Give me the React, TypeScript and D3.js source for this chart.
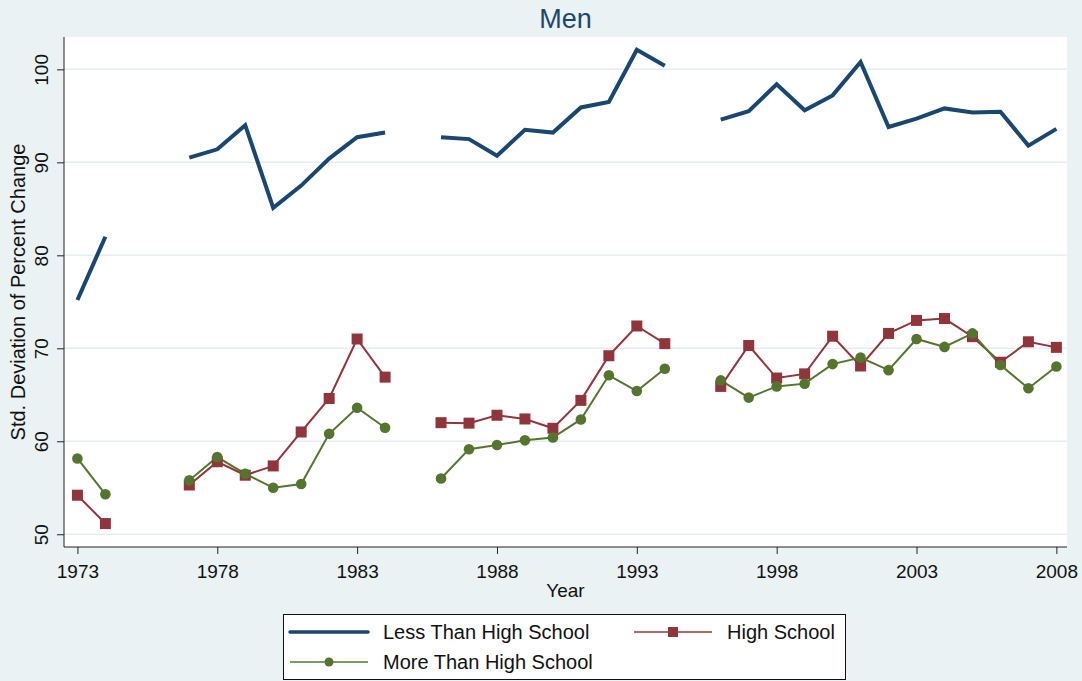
import { useEffect, useRef } from "react";
import * as d3 from "d3";

// years on the x axis (gaps = null)
const years = d3.range(1973, 2009);
const xTicks = [1973, 1978, 1983, 1988, 1993, 1998, 2003, 2008];
const yTicks = [50, 60, 70, 80, 90, 100];

const lessThanHS = [
  75.2, 82.0, null, null, 90.5, 91.4, 94.0, 85.1, 87.5, 90.4, 92.7, 93.2, null,
  92.7, 92.5, 90.7, 93.5, 93.2, 95.9, 96.5, 102.1, 100.4, null, 94.6, 95.5, 98.4,
  95.6, 97.2, 100.8, 93.8, 94.7, 95.8, 95.35, 95.45, 91.8, 93.6,
];
const highSchool = [
  54.2, 51.15, null, null, 55.3, 57.8, 56.35, 57.35, 61.0, 64.6, 71.0, 66.9, null,
  62.0, 61.95, 62.8, 62.4, 61.4, 64.4, 69.2, 72.4, 70.5, null, 65.9, 70.3, 66.8,
  67.25, 71.3, 68.1, 71.6, 73.0, 73.2, 71.25, 68.5, 70.7, 70.1,
];
const moreThanHS = [
  58.15, 54.3, null, null, 55.8, 58.3, 56.5, 55.0, 55.4, 60.8, 63.6, 61.45, null,
  56.0, 59.15, 59.6, 60.1, 60.4, 62.35, 67.1, 65.4, 67.8, null, 66.55, 64.7, 65.9,
  66.2, 68.3, 69.0, 67.65, 71.0, 70.15, 71.6, 68.2, 65.7, 68.05,
];

const BLUE = "#1a476f";
const RED = "#90353b";
const GREEN = "#55752f";
const BG = "#eaf2f3";
const FONT = "'Liberation Sans', Arial, sans-serif";

const App = () => {
  const ref = useRef<SVGSVGElement>(null);

  useEffect(() => {
    const width = 1082;
    const height = 681;
    const svg = d3.select(ref.current);
    svg.selectAll("*").remove();

    const plot = { left: 64, right: 1067, top: 37, bottom: 547 };

    const x = d3.scaleLinear().domain([1972.52, 2008.38]).range([plot.left, plot.right]);
    const y = d3.scaleLinear().domain([48.63, 103.48]).range([plot.bottom, plot.top]);

    svg.append("rect").attr("width", width).attr("height", height).attr("fill", BG);
    svg
      .append("rect")
      .attr("x", plot.left)
      .attr("y", plot.top)
      .attr("width", plot.right - plot.left)
      .attr("height", plot.bottom - plot.top)
      .attr("fill", "#fff");

    // gridlines
    svg
      .append("g")
      .selectAll("line")
      .data(yTicks)
      .join("line")
      .attr("x1", plot.left)
      .attr("x2", plot.right)
      .attr("y1", (d) => y(d))
      .attr("y2", (d) => y(d))
      .attr("stroke", "#e4edef")
      .attr("stroke-width", 1.5);

    // title
    svg
      .append("text")
      .attr("x", (plot.left + plot.right) / 2)
      .attr("y", 28)
      .attr("text-anchor", "middle")
      .attr("font-family", FONT)
      .attr("font-size", 27)
      .attr("fill", BLUE)
      .text("Men");

    // y axis
    const yAxis = svg
      .append("g")
      .attr("transform", `translate(${plot.left},0)`)
      .call(d3.axisLeft(y).tickValues(yTicks).tickSize(7).tickFormat(d3.format("d")));
    yAxis.select(".domain").attr("d", `M0,${plot.top}V${plot.bottom}`).attr("stroke", "#222");
    yAxis.selectAll(".tick line").attr("stroke", "#222");
    yAxis
      .selectAll(".tick text")
      .attr("font-family", FONT)
      .attr("font-size", 19)
      .attr("fill", "#111")
      .attr("x", null)
      .attr("dy", null)
      .attr("text-anchor", "middle")
      .attr("transform", "translate(-16,0) rotate(-90)");

    svg
      .append("text")
      .attr("transform", `translate(25,${(plot.top + plot.bottom) / 2}) rotate(-90)`)
      .attr("text-anchor", "middle")
      .attr("font-family", FONT)
      .attr("font-size", 20)
      .attr("fill", "#111")
      .text("Std. Deviation of Percent Change");

    // x axis
    const xAxis = svg
      .append("g")
      .attr("transform", `translate(0,${plot.bottom})`)
      .call(d3.axisBottom(x).tickValues(xTicks).tickSize(7).tickFormat(d3.format("d")));
    xAxis.select(".domain").attr("d", `M${plot.left},0H${plot.right}`).attr("stroke", "#222");
    xAxis.selectAll(".tick line").attr("stroke", "#222");
    xAxis
      .selectAll(".tick text")
      .attr("font-family", FONT)
      .attr("font-size", 19)
      .attr("fill", "#111")
      .attr("y", 31)
      .attr("dy", null);

    svg
      .append("text")
      .attr("x", (plot.left + plot.right) / 2)
      .attr("y", 597)
      .attr("text-anchor", "middle")
      .attr("font-family", FONT)
      .attr("font-size", 19)
      .attr("fill", "#111")
      .text("Year");

    const line = d3
      .line<number | null>()
      .defined((d) => d !== null)
      .x((_, i) => x(years[i]))
      .y((d) => y(d as number));

    const g = svg.append("g");
    g.append("path")
      .attr("d", line(lessThanHS))
      .attr("fill", "none")
      .attr("stroke", BLUE)
      .attr("stroke-width", 4);

    g.append("path")
      .attr("d", line(highSchool))
      .attr("fill", "none")
      .attr("stroke", RED)
      .attr("stroke-width", 2);

    g.append("path")
      .attr("d", line(moreThanHS))
      .attr("fill", "none")
      .attr("stroke", GREEN)
      .attr("stroke-width", 2);

    const hsPts = years.map((yr, i) => ({ yr, v: highSchool[i] })).filter((d) => d.v !== null);
    g.selectAll(".sq")
      .data(hsPts)
      .join("rect")
      .attr("class", "sq")
      .attr("x", (d) => x(d.yr) - 5.5)
      .attr("y", (d) => y(d.v as number) - 5.5)
      .attr("width", 11)
      .attr("height", 11)
      .attr("fill", RED);

    const mhPts = years.map((yr, i) => ({ yr, v: moreThanHS[i] })).filter((d) => d.v !== null);
    g.selectAll(".dot")
      .data(mhPts)
      .join("circle")
      .attr("class", "dot")
      .attr("cx", (d) => x(d.yr))
      .attr("cy", (d) => y(d.v as number))
      .attr("r", 5.3)
      .attr("fill", GREEN);

    // legend
    const lg = svg.append("g");
    lg.append("rect")
      .attr("x", 283.5)
      .attr("y", 614.5)
      .attr("width", 562)
      .attr("height", 65)
      .attr("fill", "#fff")
      .attr("stroke", "#111")
      .attr("stroke-width", 1);

    const items = [
      { label: "Less Than High School", color: BLUE, w: 3.5, marker: "none", lx: 290, ly: 632 },
      { label: "High School", color: RED, w: 1.5, marker: "square", lx: 634, ly: 632 },
      { label: "More Than High School", color: GREEN, w: 1.5, marker: "circle", lx: 290, ly: 662 },
    ];
    items.forEach((it) => {
      lg.append("line")
        .attr("x1", it.lx)
        .attr("x2", it.lx + 78)
        .attr("y1", it.ly)
        .attr("y2", it.ly)
        .attr("stroke", it.color)
        .attr("stroke-width", it.w)
        .attr("stroke-linecap", it.marker === "none" ? "round" : "butt");
      if (it.marker === "square") {
        lg.append("rect")
          .attr("x", it.lx + 39 - 5)
          .attr("y", it.ly - 5)
          .attr("width", 10)
          .attr("height", 10)
          .attr("fill", it.color);
      } else if (it.marker === "circle") {
        lg.append("circle").attr("cx", it.lx + 39).attr("cy", it.ly).attr("r", 4.5).attr("fill", it.color);
      }
      lg.append("text")
        .attr("x", it.lx + 93)
        .attr("y", it.ly)
        .attr("dy", "0.36em")
        .attr("font-family", FONT)
        .attr("font-size", 20)
        .attr("fill", "#111")
        .text(it.label);
    });
  }, []);

  return (
    <svg
      ref={ref}
      width={1082}
      height={681}
      style={{ position: "absolute", left: 0, top: 0, display: "block" }}
    />
  );
};

export default App;
